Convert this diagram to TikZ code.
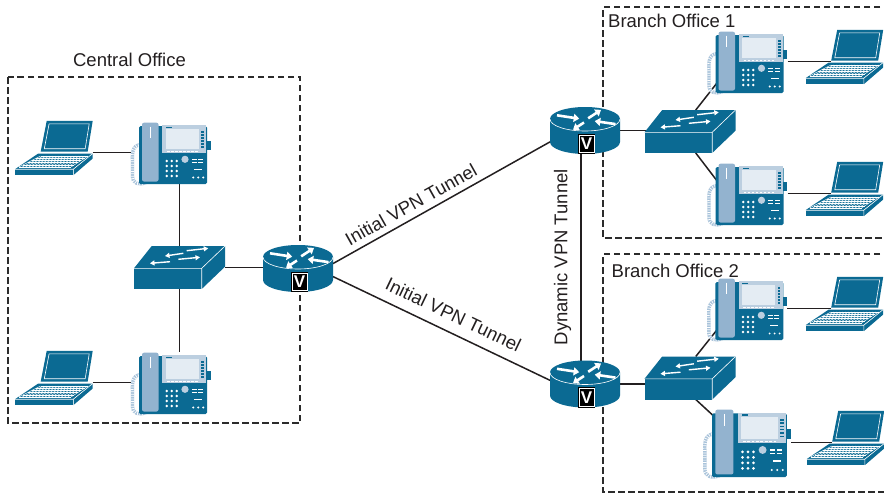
\documentclass[tikz,border=0pt]{standalone}
\usepackage{fontspec}
\setmainfont{Liberation Sans}
\usetikzlibrary{arrows.meta, backgrounds}
\definecolor{cisco}{HTML}{0B6A93}
\definecolor{hset}{HTML}{93B3CF}
\definecolor{cordc}{HTML}{A9C3DA}
\definecolor{bezel}{HTML}{BCCFE0}
\definecolor{screenc}{HTML}{E4ECF3}
\definecolor{linec}{HTML}{231F20}
\definecolor{boxc}{HTML}{2B2B2B}
\definecolor{textc}{HTML}{231F20}
\tikzset{
  link/.style={draw=linec, line width=1.5pt},
  office/.style={draw=boxc, line width=1.4pt, dash pattern=on 6.5pt off 3.5pt},
  iconbox/.style={rectangle, inner sep=0pt, outer sep=0pt},
  lbl/.style={font=\fontsize{18.5}{22}\selectfont, text=textc, inner sep=2pt},
  rim/.style={draw=white, line width=0.6pt},
  keys/.style={draw=white, line width=0.45pt},
  cord/.style={draw=cordc, line width=3.4pt},
  coil/.style={draw=white, line width=3.4pt, dash pattern=on 0.7pt off 1.7pt},
  rarrow/.style={draw=white, line width=2.6pt, -{Triangle[length=5.5pt, width=8pt]}},
  sarrow/.style={draw=white, line width=1.4pt, -{Triangle[length=4.5pt, width=5pt]}},
  vbox/.style={fill=black, draw=black, double=white, double distance=0.8pt,
               line width=0.9pt, minimum width=15pt, minimum height=17.5pt,
               inner sep=0pt, text=white, font=\fontsize{17}{17}\selectfont\bfseries},
}

% router: cylinder with the four arrows and the V badge
\newcommand{\netrouter}[2]{%
  \begin{scope}[shift={(#2)}]
    \fill[cisco] (-35,11.5) -- (-35,-11.5)
      arc[start angle=180, end angle=360, x radius=35, y radius=12] -- (35,11.5) -- cycle;
    \fill[cisco] (0,11.5) ellipse[x radius=35, y radius=12];
    \draw[rim] (-35,11.5) arc[start angle=180, end angle=360, x radius=35, y radius=12];
    \draw[rarrow] (-28,15.2) -- (-5.8,11.8);
    \draw[rarrow] (3.2,12.2) -- (16,20.6);
    \draw[rarrow] (-1,8) -- (-12,0.8);
    \draw[rarrow] (30.5,6.4) -- (9.8,9.4);
    \node[vbox] (#1-v) at (1.5,-13.5) {V};
    \node[iconbox, minimum width=70pt, minimum height=47pt] (#1) at (0,0) {};
  \end{scope}}

% workgroup switch: box in perspective
\newcommand{\netswitch}[2]{%
  \begin{scope}[shift={(#2)}]
    \fill[cisco] (-27.8,21.5) -- (45.5,21.5) -- (22.2,-0.8) -- (-45.5,-0.8) -- cycle;
    \fill[cisco] (-45.5,-0.8) rectangle (22.2,-21.5);
    \fill[cisco] (22.2,-0.8) -- (45.5,21.5) -- (45.5,0.8) -- (22.2,-21.5) -- cycle;
    \draw[rim] (-45.5,-0.8) -- (22.2,-0.8) -- (45.5,21.5) (22.2,-0.8) -- (22.2,-21.5);
    \draw[sarrow] (3.8,14.2) -- (-14.5,11.5);
    \draw[sarrow] (7.2,16.8) -- (28.8,19.2);
    \draw[sarrow] (-9.5,5.8) -- (-29.5,4.2);
    \draw[sarrow] (-1.2,8.2) -- (20.5,10.2);
    \node[iconbox, minimum width=91pt, minimum height=43pt] (#1) at (0,0) {};
  \end{scope}}

% IP phone, optional scale
\newcommand{\netphone}[3][1]{%
  \begin{scope}[shift={(#3)}, scale=#1]
    \draw[cord, postaction={coil}] (-31,8) .. controls (-41,7) and (-39.5,-2) .. (-39.5,-10)
      -- (-39.5,-24) .. controls (-39.5,-31) and (-33,-33) .. (-26,-30);
    \fill[cisco, rounded corners=1.5pt] (-33,26.5) rectangle (35,-31.5);
    \fill[cisco] (34,3) rectangle (38.5,12);
    \fill[hset, rounded corners=2pt] (-30,29.8) rectangle (-13.5,-29);
    \draw[rim] (-22,26) -- (-22,15);
    \fill[bezel] (-9.7,27.2) rectangle (34.2,-0.8);
    \fill[screenc] (-6.3,23.2) rectangle (27,3.2);
    \fill[cisco] (-6,26) rectangle (0,24.4);
    \foreach \y in {5,8,...,20}
      \fill[cisco] (29.2,\y) rectangle (32,\y+1.3);
    \foreach \x in {-5,-1,...,23}
      \fill[white] (\x,0.4) rectangle (\x+2.6,1.5);
    \foreach \x in {-5.3,-0.3,4.7}
      \foreach \y in {-8.5,-13.5,-18.5,-23.5}
        \fill[white] (\x,\y) circle (1.4);
    \fill[bezel] (13,-6.8) circle (3.6);
    \foreach \y in {-6,-9.5} {
      \fill[white] (19.5,\y) rectangle (24.5,\y-1.3);
      \fill[white] (26,\y) rectangle (31,\y-1.3);}
    \fill[white] (22,-16) rectangle (30,-17.3);
    \foreach \x in {21.3,26.3,31.3}
      \fill[white] (\x,-25) circle (1.1);
    \node[iconbox, minimum width=#1*78pt, minimum height=#1*62pt] (#2) at (0,0) {};
  \end{scope}}

% laptop, origin on the hinge line
\newcommand{\netlaptop}[2]{%
  \begin{scope}[shift={(#2)}]
    \fill[cisco] (-7.8,31.6) -- (38.2,31.6) -- (33.2,1) -- (-13.8,1) -- cycle;
    \draw[rim] (-5.4,28.6) -- (34.7,28.6) -- (30.7,3.8) -- (-10.2,3.8) -- cycle;
    \fill[cisco] (-16.2,-1) -- (38.2,-1) -- (18.8,-16.7) -- (-39.5,-16.7) -- cycle;
    \fill[cisco] (-39.5,-16.7) rectangle (18.8,-22.7);
    \fill[cisco] (18.8,-16.7) -- (38.2,-1) -- (38.2,-6) -- (18.8,-22.7) -- cycle;
    \draw[rim] (-39.5,-16.7) -- (18.8,-16.7) -- (38.2,-1) (18.8,-16.7) -- (18.8,-22.7);
    \foreach \t in {0,0.2,0.4,0.6,0.8,1}
      \draw[keys] ({-14-21.5*\t},{-3.5-11*\t}) -- ({33.5-17*\t},{-3.5-11*\t});
    \foreach \s in {0,...,16}
      \draw[keys] ({-14+47.5*\s/16},-3.5) -- ({-35.5+52*\s/16},-14.5);
    \node[iconbox, minimum width=52.7pt, minimum height=50pt] (#1) at (11.85,0) {};
  \end{scope}}

\begin{document}
\begin{tikzpicture}[x=1pt, y=1pt]
  \useasboundingbox (0,0) rectangle (884,-493);

  % central office
  \netlaptop{cl1}{54.5,-152.5}
  \netlaptop{cl2}{54.5,-382.5}
  \netphone{cp1}{172,-152.5}
  \netphone{cp2}{172,-382.5}
  \netswitch{csw}{179.5,-267.5}
  \netrouter{crt}{298,-268.5}

  % branch office 1
  \netrouter{b1rt}{585,-130.5}
  \netswitch{b1sw}{690,-131.5}
  \netphone{b1p1}{748.5,-61.5}
  \netphone{b1p2}{748.5,-193.5}
  \netlaptop{b1l1}{845,-61.5}
  \netlaptop{b1l2}{845,-193.5}

  % branch office 2
  \netrouter{b2rt}{585,-384}
  \netswitch{b2sw}{690,-378}
  \netphone{b2p1}{748.3,-308.5}
  \netphone[1.1]{b2p2}{748.3,-442.5}
  \netlaptop{b2l1}{845,-308.5}
  \netlaptop{b2l2}{846,-442.5}

  \node[lbl] (tco) at (129.5,-60) {Central Office};
  \node[lbl, anchor=west] (tb1) at (606,-21) {Branch Office 1};
  \node[lbl, anchor=west] (tb2) at (609.5,-271) {Branch Office 2};

  \begin{scope}[on background layer]
    \draw[office] (8,-77) rectangle (300,-423);
    \draw[office] (900,-7) -- (603,-7) -- (603,-238) -- (900,-238);
    \draw[office] (900,-254) -- (603,-254) -- (603,-492) -- (900,-492);

    \draw[link] (cl1.east) -- (cp1);
    \draw[link] (cl2.east) -- (cp2);
    \draw[link] (csw.north) -- (csw.north |- cp1.south);
    \draw[link] (csw.south) -- (csw.south |- cp2.north);
    \draw[link] (csw) -- (csw -| crt);

    \draw[link] (crt.8) -- node[lbl, sloped, above=4pt, pos=0.39] (t1) {Initial VPN Tunnel} (b1rt.198);
    \draw[link] (crt.347) -- node[lbl, sloped, above=8pt, pos=0.52] (t2) {Initial VPN Tunnel} (b2rt.174);
    \draw[link] ([xshift=-4pt]b2rt.north) -- node[lbl, sloped, above=7pt] (t3) {Dynamic VPN Tunnel} ([xshift=-4pt]b1rt.south);

    \draw[link] (b1rt) -- (b1rt -| b1sw);
    \draw[link, shorten >=-16pt] (b1sw.75) -- (b1p1.south west);
    \draw[link, shorten >=-16pt] (b1sw.285) -- (b1p2.150);
    \draw[link] (b1p1) -- (b1l1.west);
    \draw[link] (b1p2) -- (b1l2.west);

    \draw[link] (b2rt) -- (b2rt -| b2sw);
    \draw[link, shorten >=-16pt] (b2sw.75) -- (b2p1.south west);
    \draw[link, shorten >=-16pt] (b2sw.285) -- (b2p2.north west);
    \draw[link] (b2p1) -- (b2l1.west);
    \draw[link] (b2p2) -- (b2l2.west);
  \end{scope}
\end{tikzpicture}
\end{document}
